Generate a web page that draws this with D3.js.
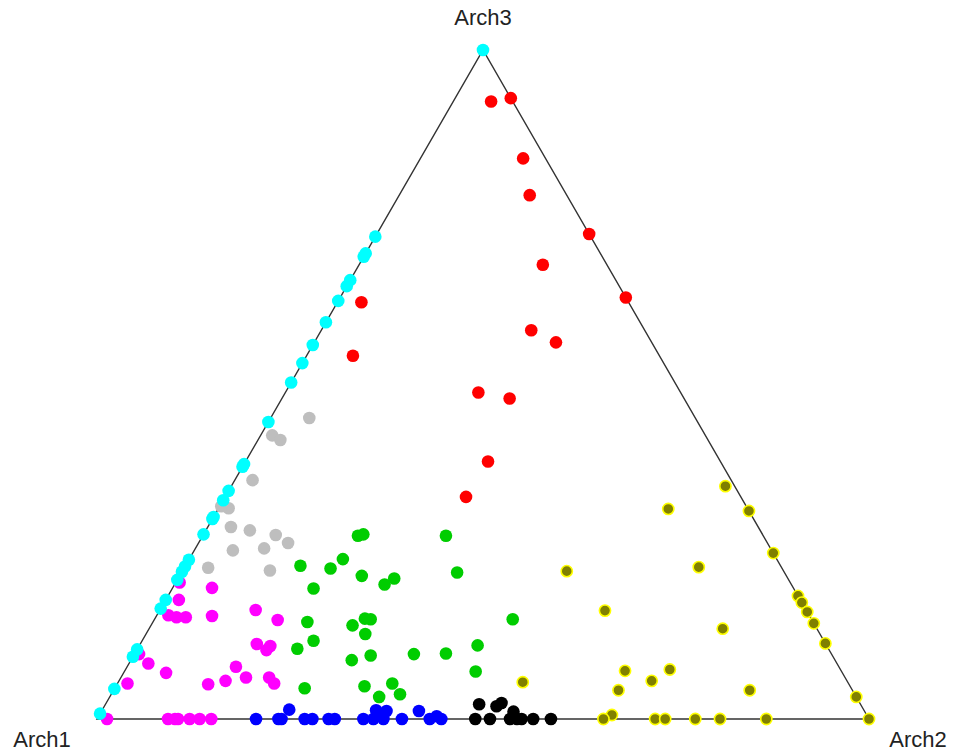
<!DOCTYPE html>
<html>
<head>
<meta charset="utf-8">
<script src="https://cdn.jsdelivr.net/npm/d3@7"></script>
<style>
  html, body { margin: 0; padding: 0; background: #fff; }
  svg { display: block; }
  text { font-family: "Liberation Sans", Arial, Helvetica, sans-serif; }
</style>
</head>
<body>
<svg id="chart" width="960" height="754"></svg>
<script>
// Archetype names at the triangle corners
const archetypes = ["Arch1", "Arch2", "Arch3"];

// Mixture proportions [Arch1, Arch2, Arch3] for each group of samples
const cyanGroup = [
  [0.000, 0, 1.000], [0.279, 0, 0.721], [0.304, 0, 0.696], [0.309, 0, 0.691],
  [0.344, 0, 0.656], [0.353, 0, 0.647], [0.375, 0, 0.625], [0.407, 0, 0.593],
  [0.441, 0, 0.559], [0.468, 0, 0.532], [0.497, 0, 0.503], [0.556, 0, 0.444],
  [0.619, 0, 0.381], [0.623, 0, 0.377], [0.659, 0, 0.341], [0.673, 0, 0.327],
  [0.698, 0, 0.302], [0.701, 0, 0.299], [0.724, 0, 0.276], [0.762, 0, 0.238],
  [0.772, 0, 0.228], [0.780, 0, 0.220], [0.792, 0, 0.208], [0.822, 0, 0.178],
  [0.835, 0, 0.165], [0.896, 0, 0.104], [0.907, 0, 0.093], [0.955, 0, 0.045],
  [0.992, 0, 0.008]
];

const redGroup = [
  [0.028, 0.049, 0.923], [0.000, 0.072, 0.928], [0.029, 0.133, 0.838],
  [0.048, 0.169, 0.783], [0.000, 0.275, 0.725], [0.083, 0.238, 0.679],
  [0.000, 0.370, 0.630], [0.346, 0.031, 0.623], [0.147, 0.272, 0.581],
  [0.124, 0.313, 0.563], [0.397, 0.060, 0.543], [0.262, 0.250, 0.488],
  [0.226, 0.295, 0.479], [0.301, 0.314, 0.385], [0.356, 0.312, 0.332]
];

const grayGroup = [
  [0.500, 0.050, 0.450], [0.561, 0.015, 0.424], [0.554, 0.029, 0.417],
  [0.620, 0.023, 0.357], [0.672, 0.013, 0.315], [0.680, 0.002, 0.318],
  [0.683, 0.030, 0.287], [0.661, 0.057, 0.282], [0.631, 0.094, 0.275],
  [0.621, 0.116, 0.263], [0.698, 0.050, 0.252], [0.656, 0.089, 0.255],
  [0.743, 0.031, 0.226], [0.665, 0.113, 0.222]
];

const magentaGroup = [
  [0.791, 0.005, 0.204], [0.753, 0.051, 0.196], [0.805, 0.017, 0.178],
  [0.830, 0.015, 0.155], [0.821, 0.027, 0.152], [0.809, 0.039, 0.152],
  [0.774, 0.072, 0.154], [0.713, 0.124, 0.163], [0.692, 0.160, 0.148],
  [0.737, 0.151, 0.112], [0.729, 0.168, 0.103], [0.721, 0.170, 0.109],
  [0.897, 0.006, 0.097], [0.892, 0.025, 0.083], [0.876, 0.055, 0.069],
  [0.934, 0.013, 0.053], [0.830, 0.118, 0.052], [0.805, 0.138, 0.057],
  [0.781, 0.141, 0.078], [0.776, 0.162, 0.062], [0.746, 0.192, 0.062],
  [0.744, 0.203, 0.053],
  [0.987, 0.013, 0], [0.908, 0.092, 0], [0.899, 0.101, 0], [0.895, 0.105, 0],
  [0.880, 0.120, 0], [0.867, 0.133, 0], [0.852, 0.148, 0]
];

const greenGroup = [
  [0.525, 0.201, 0.274], [0.517, 0.207, 0.276], [0.411, 0.315, 0.274],
  [0.622, 0.149, 0.229], [0.585, 0.190, 0.225], [0.562, 0.199, 0.239],
  [0.550, 0.236, 0.214], [0.527, 0.272, 0.201], [0.510, 0.280, 0.210],
  [0.424, 0.357, 0.219], [0.622, 0.183, 0.195], [0.655, 0.200, 0.145],
  [0.599, 0.261, 0.140], [0.578, 0.272, 0.150], [0.571, 0.280, 0.149],
  [0.589, 0.284, 0.127], [0.661, 0.222, 0.117], [0.688, 0.207, 0.105],
  [0.626, 0.286, 0.088], [0.598, 0.307, 0.095], [0.541, 0.362, 0.097],
  [0.499, 0.403, 0.098], [0.387, 0.464, 0.149], [0.452, 0.438, 0.110],
  [0.474, 0.455, 0.071], [0.708, 0.246, 0.046], [0.629, 0.322, 0.049],
  [0.591, 0.356, 0.053], [0.589, 0.374, 0.037], [0.618, 0.349, 0.033]
];

const blueGroup = [
  [0.794, 0.206, 0], [0.765, 0.235, 0], [0.761, 0.239, 0], [0.744, 0.242, 0.014],
  [0.731, 0.269, 0], [0.721, 0.279, 0], [0.700, 0.300, 0], [0.692, 0.308, 0],
  [0.655, 0.345, 0], [0.642, 0.358, 0], [0.629, 0.371, 0], [0.632, 0.355, 0.013],
  [0.619, 0.369, 0.012], [0.605, 0.395, 0], [0.577, 0.411, 0.012],
  [0.569, 0.431, 0], [0.558, 0.438, 0.004], [0.554, 0.446, 0]
];

const blackGroup = [
  [0.494, 0.484, 0.022], [0.473, 0.508, 0.019], [0.464, 0.512, 0.024],
  [0.455, 0.534, 0.011], [0.510, 0.490, 0], [0.491, 0.509, 0], [0.465, 0.535, 0],
  [0.456, 0.544, 0], [0.450, 0.550, 0], [0.435, 0.565, 0], [0.412, 0.588, 0]
];

const yellowGroup = [
  [0.012, 0.640, 0.348], [0.103, 0.583, 0.314], [0.000, 0.689, 0.311],
  [0.000, 0.752, 0.248], [0.281, 0.498, 0.221], [0.107, 0.666, 0.227],
  [0.000, 0.816, 0.184], [0.000, 0.826, 0.174], [0.000, 0.840, 0.160],
  [0.000, 0.857, 0.143], [0.000, 0.887, 0.113], [0.261, 0.577, 0.162],
  [0.122, 0.743, 0.135], [0.280, 0.648, 0.072], [0.221, 0.705, 0.074],
  [0.253, 0.690, 0.057], [0.303, 0.654, 0.043], [0.133, 0.824, 0.043],
  [0.000, 0.967, 0.033], [0.421, 0.524, 0.055], [0.330, 0.664, 0.006],
  [0.344, 0.656, 0], [0.277, 0.723, 0], [0.264, 0.736, 0], [0.225, 0.775, 0],
  [0.193, 0.807, 0], [0.133, 0.867, 0], [0.000, 1.000, 0]
];

// Drawing order and colours of the groups
const groups = [
  { pts: grayGroup,    fill: "#BEBEBE", stroke: "none" },
  { pts: magentaGroup, fill: "#FF00FF", stroke: "none" },
  { pts: greenGroup,   fill: "#00CD00", stroke: "none" },
  { pts: blueGroup,    fill: "#0000FF", stroke: "none" },
  { pts: blackGroup,   fill: "#000000", stroke: "none" },
  { pts: redGroup,     fill: "#FF0000", stroke: "none" },
  { pts: yellowGroup,  fill: "#808000", stroke: "#FFFF00" },
  { pts: cyanGroup,    fill: "#00FFFF", stroke: "none" }
];

const svg = d3.select("#chart");

// Ternary -> cartesian: horizontal position is Arch2 + Arch3/2, vertical is Arch3
const x = d3.scaleLinear().domain([0, 1]).range([97, 869]);
const y = d3.scaleLinear().domain([0, 1]).range([719, 50]);

function project(p) {
  const s = p[0] + p[1] + p[2];
  const b = p[1] / s, c = p[2] / s;
  return [x(b + c / 2), y(c)];
}

// Triangle outline through the three pure archetypes
const corners = [[1, 0, 0], [0, 1, 0], [0, 0, 1]].map(project);
svg.append("path")
  .attr("d", d3.line()(corners) + "Z")
  .attr("fill", "none")
  .attr("stroke", "#333")
  .attr("stroke-width", 1.4);

// Corner labels
const labelPos = [
  { x: corners[0][0] - 55, y: corners[0][1] + 28 },
  { x: corners[1][0] + 49, y: corners[1][1] + 28 },
  { x: corners[2][0], y: corners[2][1] - 25 }
];
svg.selectAll("text.corner")
  .data(archetypes)
  .join("text")
  .attr("class", "corner")
  .attr("x", (d, i) => labelPos[i].x)
  .attr("y", (d, i) => labelPos[i].y)
  .attr("text-anchor", "middle")
  .attr("font-size", 22)
  .attr("fill", "#222")
  .text(d => d);

// Sample points
groups.forEach(g => {
  svg.append("g")
    .selectAll("circle")
    .data(g.pts)
    .join("circle")
    .attr("cx", d => project(d)[0])
    .attr("cy", d => project(d)[1])
    .attr("r", g.stroke === "none" ? 6.3 : 5.6)
    .attr("fill", g.fill)
    .attr("stroke", g.stroke)
    .attr("stroke-width", g.stroke === "none" ? 0 : 1.6);
});
</script>
</body>
</html>
